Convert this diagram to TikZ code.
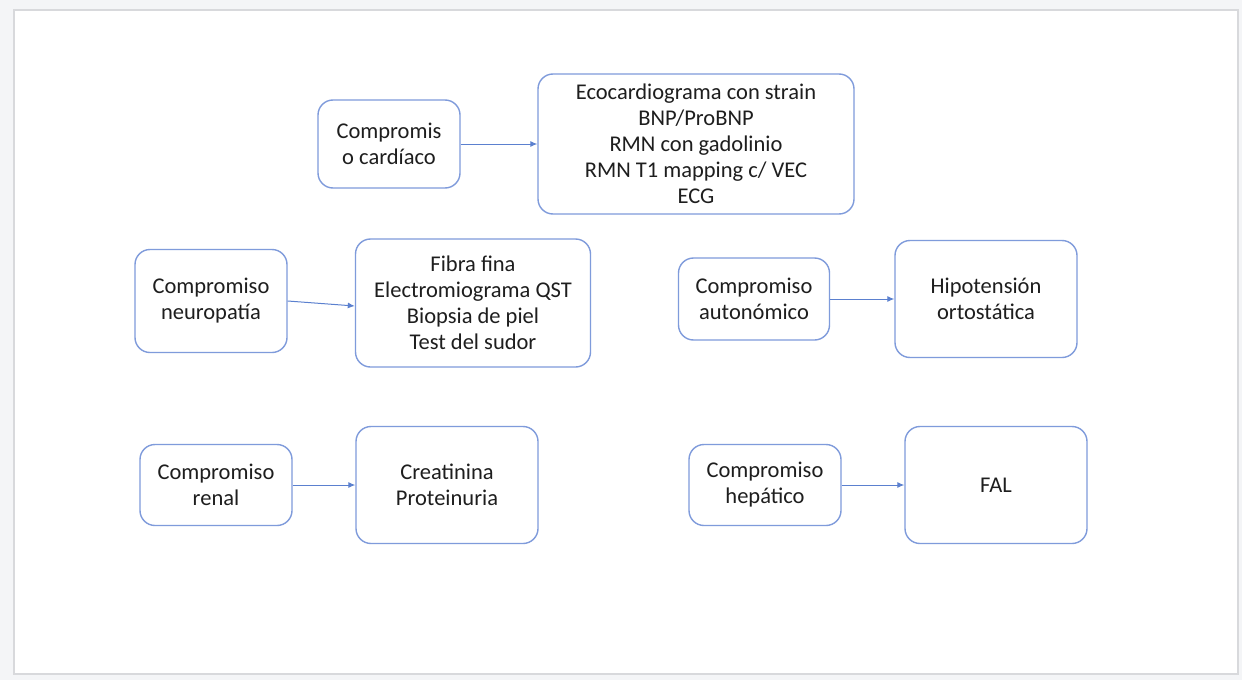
\documentclass[tikz,border=0pt]{standalone}
\usepackage{fontspec}
\setmainfont{Carlito}
\usetikzlibrary{arrows.meta}
\definecolor{boxblue}{HTML}{7F9BDB}
\definecolor{arrowblue}{HTML}{5B80CF}
\definecolor{pagegray}{HTML}{F4F5F7}
\definecolor{panelborder}{HTML}{D8D9DC}
\definecolor{txt}{HTML}{1E1E1E}
\begin{document}
\begin{tikzpicture}[x=1pt,y=-1pt,
  box/.style={draw=boxblue,line width=1.4pt,rounded corners=15pt,align=center,
    font=\fontsize{22.5}{26}\selectfont,text=txt,inner sep=0pt},
  conn/.style={draw=arrowblue,line width=1pt,-{Latex[length=7pt,width=6pt]}}]
\useasboundingbox (0,0) rectangle (1242,680);
\fill[pagegray] (0,0) rectangle (1242,680);
\draw[panelborder,line width=2pt,fill=white] (14,10) rectangle (1238,674);
% nodes
\node[box,minimum width=142pt,minimum height=88pt] (card) at (389,144) {Compromis\\o cardíaco};
\node[box,minimum width=316pt,minimum height=140pt] (cardr) at (696,144) {Ecocardiograma con strain\\BNP/ProBNP\\RMN con gadolinio\\RMN T1 mapping c/ VEC\\ECG};
\node[box,minimum width=152pt,minimum height=103pt] (neuro) at (211,301) {Compromiso\\neuropatía};
\node[box,minimum width=235pt,minimum height=128pt] (neuror) at (473,303) {Fibra fina\\Electromiograma QST\\Biopsia de piel\\Test del sudor};
\node[box,minimum width=151pt,minimum height=82pt] (auto) at (754,299) {Compromiso\\autonómico};
\node[box,minimum width=182pt,minimum height=117pt] (autor) at (986,299) {Hipotensión\\ortostática};
\node[box,minimum width=152pt,minimum height=81pt] (renal) at (216,485) {Compromiso\\renal};
\node[box,minimum width=182pt,minimum height=117pt] (renalr) at (447,485) {Creatinina\\Proteinuria};
\node[box,minimum width=152pt,minimum height=81pt] (hep) at (765,485) {Compromiso\\hepático};
\node[box,minimum width=182pt,minimum height=117pt] (hepr) at (996,485) {FAL};
% connectors
\draw[conn] (card.east) -- (cardr.west);
\draw[conn] (neuro.east) -- ([yshift=-3pt]neuror.west);
\draw[conn] (auto.east) -- (autor.west);
\draw[conn] (renal.east) -- (renalr.west);
\draw[conn] (hep.east) -- (hepr.west);
\end{tikzpicture}
\end{document}
